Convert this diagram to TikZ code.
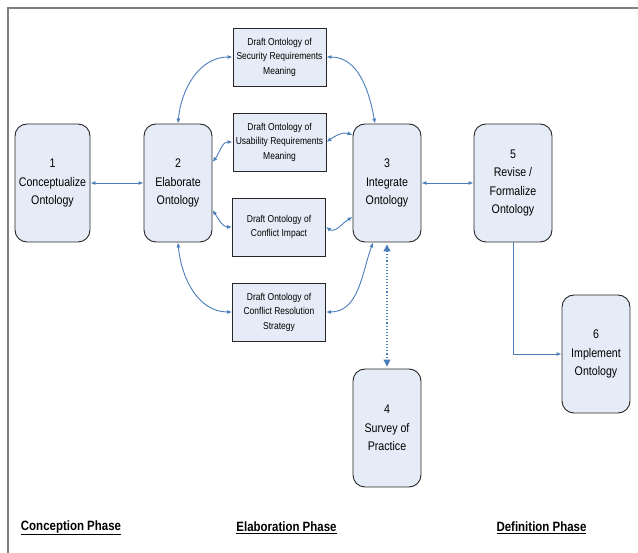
\documentclass[tikz,border=0pt]{standalone}
\usepackage{fontspec}
\setmainfont{Liberation Sans}[FakeStretch=0.85]
\usetikzlibrary{arrows.meta}
\definecolor{boxfill}{HTML}{E6ECF7}
\definecolor{boxline}{HTML}{262626}
\definecolor{linkblue}{HTML}{4A7EBB}
\definecolor{framegray}{HTML}{7F7F7F}

\begin{document}
\begin{tikzpicture}[x=1pt, y=-1pt,
    stage/.style={rectangle, rounded corners=12pt, draw=boxline, line width=0.9pt, fill=boxfill, minimum width=68pt, minimum height=118pt, inner sep=0pt, align=center, font=\fontsize{12.5}{18.5}\selectfont},
    draft/.style={rectangle, draw=boxline, line width=0.9pt, fill=boxfill, minimum width=93pt, minimum height=58pt, inner sep=0pt, align=center, font=\fontsize{10}{14.5}\selectfont},
    link/.style={{Latex[length=5pt,width=4pt]}-{Latex[length=5pt,width=4pt]}, linkblue, line width=0.9pt},
    phase/.style={font=\bfseries\fontsize{13.5}{15}\selectfont}]
    \useasboundingbox (0,0) rectangle (638,553);
    % Frame
    \draw[framegray, line width=1.5pt] (8,553) -- (8,8) -- (638,8);

    % Stages
    \node[stage, minimum width=75pt] (b1) at (52.5,183) {1\\Conceptualize\\Ontology};
    \node[stage] (b2) at (178,183) {2\\Elaborate\\Ontology};
    \node[stage] (b3) at (387,183) {3\\Integrate\\Ontology};
    \node[stage] (b4) at (387,428) {4\\Survey of\\Practice};
    \node[stage, minimum width=78pt] (b5) at (513,183) {5\\Revise /\\Formalize\\Ontology};
    \node[stage] (b6) at (596,354) {6\\Implement\\Ontology};

    % Drafts
    \node[draft] (ds) at (279.5,57) {Draft Ontology of\\Security Requirements\\Meaning};
    \node[draft] (du) at (279.5,142) {Draft Ontology of\\Usability Requirements\\Meaning};
    \node[draft] (dc) at (279,227) {Draft Ontology of\\Conflict Impact};
    \node[draft] (dr) at (279,312) {Draft Ontology of\\Conflict Resolution\\Strategy};

    % Links
    \draw[link] (b1) -- (b2);
    \draw[link] (b3) -- (b5);
    \draw[link] (b2.north) to[out=85, in=180] (ds.west);
    \draw[link] ([yshift=21pt]b2.east) to[out=50, in=180] (du.west);
    \draw[link] ([yshift=-27pt]b2.east) to[out=-55, in=180] (dc.west);
    \draw[link] (b2.south) to[out=-85, in=180] (dr.west);
    \draw[link] (ds.east) to[out=0, in=100] ([xshift=-12pt]b3.north);
    \draw[link] (du.east) to[out=35, in=160] ([yshift=48pt]b3.west);
    \draw[link] (dc.east) to[out=-35, in=-150] ([yshift=-34pt]b3.west);
    \draw[link] (dr.east) to[out=0, in=-110] ([xshift=-14pt]b3.south);
    \draw[{Triangle[length=7pt,width=7pt]}-{Triangle[length=7pt,width=7pt]}, linkblue, line width=1.1pt, dotted, shorten <=2pt, shorten >=2pt] (b3.south) -- (b4.north);
    \draw[-{Latex[length=5pt,width=4pt]}, linkblue, line width=0.9pt] (b5.south) |- (b6.west);

    % Phases
    \node[phase] (p1) at (71,528) {\underline{Conception Phase}};
    \node[phase] (p2) at (286.5,528) {\underline{Elaboration Phase}};
    \node[phase] (p3) at (541.5,528) {\underline{Definition Phase}};
\end{tikzpicture}
\end{document}
